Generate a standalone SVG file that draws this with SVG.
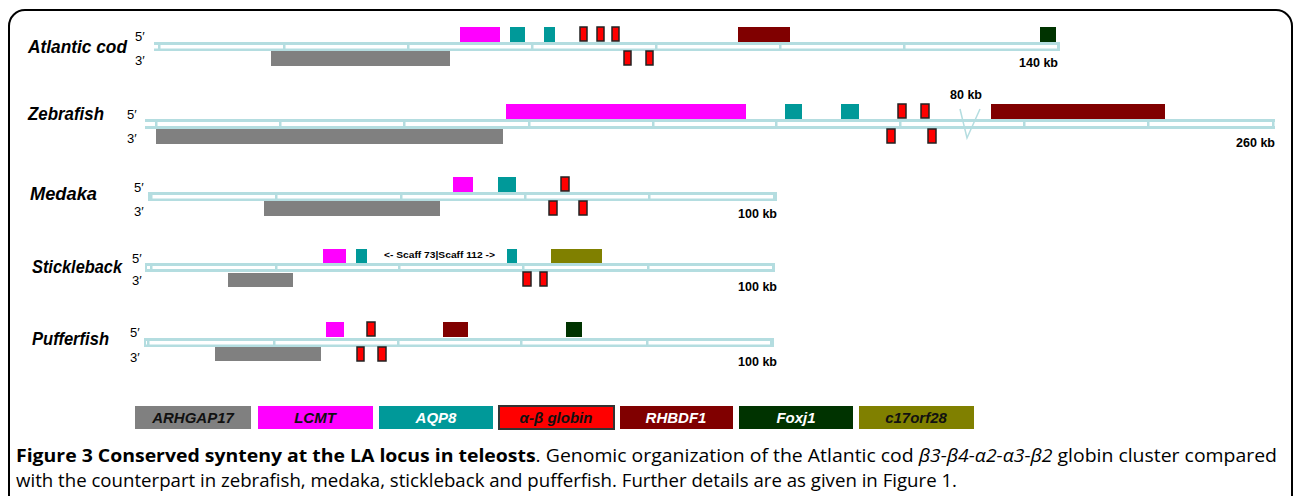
<svg xmlns="http://www.w3.org/2000/svg" width="1293" height="496" viewBox="0 0 1293 496">
<style>
.chr{fill:#b4dde0}
.gap{fill:#ffffff}
.tk{fill:#b4dde0}
.mag{fill:#ff00ff}
.teal{fill:#009999}
.glob{fill:#ff0000;stroke:#222;stroke-width:1.5}
.rh{fill:#800000}
.fox{fill:#003300}
.olv{fill:#808000}
.gry{fill:#808080}
.sp{font-family:"Liberation Sans",Arial,sans-serif;font-weight:bold;font-style:italic;font-size:18px;fill:#000}
.end{font-family:"Liberation Sans",Arial,sans-serif;font-size:13px;fill:#000}
.kb{font-family:"Liberation Sans",Arial,sans-serif;font-weight:bold;font-size:12.5px;fill:#000}
.lg{font-family:"Liberation Sans",Arial,sans-serif;font-weight:bold;font-style:italic;font-size:15px;text-anchor:middle}
.cap{font-family:"Open Sans","Noto Sans",sans-serif;font-size:18px;fill:#000}
</style>
<rect x="9" y="10" width="1283" height="530" rx="16" fill="none" stroke="#000" stroke-width="2"/>

<g id="atlantic-cod">
<text class="sp" x="28" y="53" textLength="99" lengthAdjust="spacingAndGlyphs">Atlantic cod</text>
<text class="end" x="135" y="41">5′</text>
<text class="end" x="135" y="65">3′</text>
<rect class="chr" x="154" y="42" width="906" height="9"/>
<rect class="gap" x="154" y="45" width="904" height="3.5"/>
<g class="tk"><rect x="158" y="44" width="2.5" height="6"/><rect x="283" y="44" width="2.5" height="6"/><rect x="407" y="44" width="2.5" height="6"/><rect x="531" y="44" width="2.5" height="6"/><rect x="655" y="44" width="2.5" height="6"/><rect x="779" y="44" width="2.5" height="6"/><rect x="903" y="44" width="2.5" height="6"/><rect x="1057" y="44" width="3" height="6"/></g>
<rect class="mag" x="460" y="27" width="40" height="15"/>
<rect class="teal" x="510" y="27" width="15" height="15"/>
<rect class="teal" x="544" y="27" width="11" height="15"/>
<rect class="glob" x="580" y="27" width="7" height="14"/>
<rect class="glob" x="597" y="27" width="7" height="14"/>
<rect class="glob" x="612" y="27" width="7" height="14"/>
<rect class="rh" x="738" y="27" width="52" height="15"/>
<rect class="fox" x="1040" y="27" width="16" height="15"/>
<rect class="gry" x="271" y="51" width="179" height="15"/>
<rect class="glob" x="624" y="51" width="7" height="14"/>
<rect class="glob" x="646" y="51" width="7" height="14"/>
<text class="kb" x="1058" y="67" text-anchor="end">140 kb</text>
</g>

<g id="zebrafish">
<text class="sp" x="28" y="120" textLength="76" lengthAdjust="spacingAndGlyphs">Zebrafish</text>
<text class="end" x="127" y="119">5′</text>
<text class="end" x="127" y="143">3′</text>
<rect class="chr" x="145" y="119" width="1130" height="10"/>
<rect class="gap" x="145" y="122" width="1130" height="4"/>
<g class="tk"><rect x="155" y="121" width="2.5" height="6"/><rect x="279" y="121" width="2.5" height="6"/><rect x="403" y="121" width="2.5" height="6"/><rect x="528" y="121" width="2.5" height="6"/><rect x="652" y="121" width="2.5" height="6"/><rect x="775" y="121" width="2.5" height="6"/><rect x="899" y="121" width="2.5" height="6"/><rect x="1023" y="121" width="2.5" height="6"/><rect x="1147" y="121" width="2.5" height="6"/><rect x="1272" y="121" width="2.5" height="6"/></g>
<rect class="mag" x="506" y="104" width="240" height="15"/>
<rect class="teal" x="785" y="104" width="17" height="15"/>
<rect class="teal" x="841" y="104" width="18" height="15"/>
<rect class="glob" x="898" y="104" width="8" height="14"/>
<rect class="glob" x="921" y="104" width="8" height="14"/>
<rect class="rh" x="991" y="104" width="174" height="15"/>
<rect class="gry" x="156" y="129" width="347" height="15"/>
<rect class="glob" x="887" y="129" width="8" height="14"/>
<rect class="glob" x="928" y="129" width="8" height="14"/>
<text class="kb" x="950" y="99">80 kb</text>
<text class="kb" x="1275" y="147" text-anchor="end">260 kb</text>
</g>

<g id="medaka">
<text class="sp" x="30" y="200" textLength="67" lengthAdjust="spacingAndGlyphs">Medaka</text>
<text class="end" x="134" y="192">5′</text>
<text class="end" x="134" y="216">3′</text>
<rect class="chr" x="148" y="192" width="629" height="9"/>
<rect class="gap" x="150" y="195" width="625" height="3.5"/>
<g class="tk"><rect x="150" y="194" width="2.5" height="6"/><rect x="275" y="194" width="2.5" height="6"/><rect x="400" y="194" width="2.5" height="6"/><rect x="524" y="194" width="2.5" height="6"/><rect x="648" y="194" width="2.5" height="6"/><rect x="773" y="194" width="2.5" height="6"/></g>
<rect class="mag" x="453" y="177" width="20" height="15"/>
<rect class="teal" x="498" y="177" width="18" height="15"/>
<rect class="glob" x="561" y="177" width="8" height="14"/>
<rect class="gry" x="264" y="201" width="176" height="15"/>
<rect class="glob" x="549" y="201" width="8" height="14"/>
<rect class="glob" x="579" y="201" width="8" height="14"/>
<text class="kb" x="777" y="218" text-anchor="end">100 kb</text>
</g>

<g id="stickleback">
<text class="sp" x="32" y="273" textLength="90" lengthAdjust="spacingAndGlyphs">Stickleback</text>
<text class="end" x="132" y="263">5′</text>
<text class="end" x="132" y="285">3′</text>
<rect class="chr" x="145" y="263" width="630" height="9"/>
<rect class="gap" x="147" y="266" width="626" height="3"/>
<g class="tk"><rect x="150" y="265" width="2.5" height="6"/><rect x="275" y="265" width="2.5" height="6"/><rect x="398" y="265" width="2.5" height="6"/><rect x="522" y="265" width="2.5" height="6"/><rect x="647" y="265" width="2.5" height="6"/><rect x="772" y="265" width="2.5" height="6"/></g>
<rect class="mag" x="323" y="249" width="23" height="14"/>
<rect class="teal" x="356" y="249" width="11" height="14"/>
<rect class="teal" x="507" y="249" width="10" height="14"/>
<rect class="olv" x="551" y="249" width="51" height="14"/>
<text x="384" y="258" textLength="111" lengthAdjust="spacingAndGlyphs" style="font-family:'Liberation Sans',Arial,sans-serif;font-weight:bold;font-size:9px">&lt;- Scaff 73|Scaff 112 -&gt;</text>
<rect class="gry" x="228" y="273" width="65" height="14"/>
<rect class="glob" x="523" y="272" width="8" height="14"/>
<rect class="glob" x="540" y="272" width="7" height="14"/>
<text class="kb" x="777" y="291" text-anchor="end">100 kb</text>
</g>

<g id="pufferfish">
<text class="sp" x="32" y="345" textLength="77" lengthAdjust="spacingAndGlyphs">Pufferfish</text>
<text class="end" x="130" y="337">5′</text>
<text class="end" x="130" y="362">3′</text>
<rect class="chr" x="144" y="338" width="630" height="9"/>
<rect class="gap" x="146" y="341" width="626" height="3.5"/>
<g class="tk"><rect x="147" y="340" width="2.5" height="6"/><rect x="273" y="340" width="2.5" height="6"/><rect x="397" y="340" width="2.5" height="6"/><rect x="520" y="340" width="2.5" height="6"/><rect x="646" y="340" width="2.5" height="6"/><rect x="770" y="340" width="2.5" height="6"/></g>
<rect class="mag" x="326" y="322" width="18" height="15"/>
<rect class="glob" x="367" y="322" width="8" height="14"/>
<rect class="rh" x="443" y="322" width="25" height="15"/>
<rect class="fox" x="566" y="322" width="16" height="15"/>
<rect class="gry" x="215" y="347" width="106" height="14"/>
<rect class="glob" x="357" y="347" width="7" height="14"/>
<rect class="glob" x="378" y="347" width="8" height="14"/>
<text class="kb" x="777" y="366" text-anchor="end">100 kb</text>
</g>

<g id="connectors">
<polyline points="960,109 967,138 980,109" fill="none" stroke="#b4dde0" stroke-width="1.5"/>
</g>

<g id="legend">
<g id="lg-arhgap17"><rect class="gry" x="135" y="406" width="116" height="23"/><text class="lg" x="193" y="423" fill="#111">ARHGAP17</text></g>
<g id="lg-lcmt"><rect class="mag" x="258" y="406" width="115" height="23"/><text class="lg" x="315" y="423" fill="#111">LCMT</text></g>
<g id="lg-aqp8"><rect class="teal" x="379" y="406" width="114" height="23"/><text class="lg" x="436" y="423" fill="#fff">AQP8</text></g>
<g id="lg-globin"><rect x="499" y="406" width="115" height="23" fill="#ff0000" stroke="#333" stroke-width="2"/><text class="lg" x="556" y="423" fill="#111">α-β globin</text></g>
<g id="lg-rhbdf1"><rect class="rh" x="620" y="406" width="113" height="23"/><text class="lg" x="676" y="423" fill="#fff">RHBDF1</text></g>
<g id="lg-foxj1"><rect class="fox" x="739" y="406" width="114" height="23"/><text class="lg" x="796" y="423" fill="#fff">Foxj1</text></g>
<g id="lg-c17orf28"><rect class="olv" x="859" y="406" width="115" height="23"/><text class="lg" x="916" y="423" fill="#111">c17orf28</text></g>
</g>

<g id="caption">
<text class="cap" x="16" y="462" textLength="1261" lengthAdjust="spacingAndGlyphs"><tspan font-weight="bold">Figure 3 Conserved synteny at the LA locus in teleosts</tspan>. Genomic organization of the Atlantic cod <tspan font-style="italic">β3-β4-α2-α3-β2</tspan> globin cluster compared</text>
<text class="cap" x="16" y="487" textLength="941" lengthAdjust="spacingAndGlyphs">with the counterpart in zebrafish, medaka, stickleback and pufferfish. Further details are as given in Figure 1.</text>
</g>
</svg>
